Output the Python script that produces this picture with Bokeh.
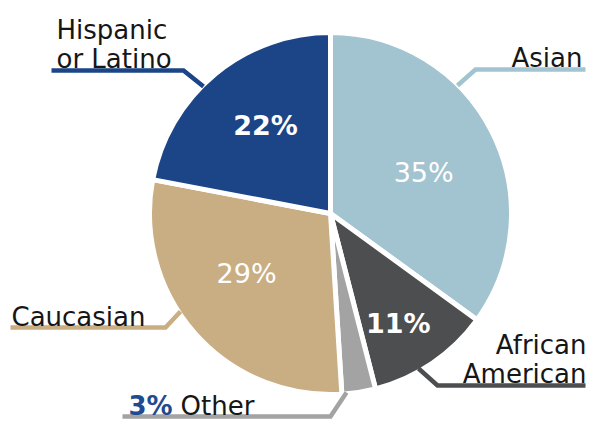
import math
from bokeh.plotting import figure
from bokeh.models import Range1d
from bokeh.core.properties import value
from bokeh.embed import file_html
from bokeh.resources import INLINE

# ---- data ----
categories = ["Asian", "African American", "Other", "Caucasian", "Hispanic or Latino"]
shares = [35, 11, 3, 29, 22]
colors = ["#a2c4d0", "#4d4e50", "#a3a3a3", "#c9ad83", "#1c4588"]

# ---- layout (screen px) ----
W, H = 587, 420
CX, CY = 330, 213      # pie centre in picture pixels
R = 181
FONT = "DejaVu Sans"

def dx(sx):
    return sx - CX

def dy(sy):
    return CY - sy

p = figure(width=W, height=H, output_backend="svg", toolbar_location=None,
           x_range=Range1d(dx(0), dx(W)), y_range=Range1d(dy(H), dy(0)),
           min_border=0, min_border_left=0, min_border_right=0,
           min_border_top=0, min_border_bottom=0)
p.axis.visible = False
p.grid.visible = False
p.outline_line_color = None
p.background_fill_color = "white"
p.border_fill_color = "white"

total = float(sum(shares))
starts, ends, mids = [], [], []
acc = 0.0
for s in shares:
    a0 = acc / total * 2 * math.pi
    acc += s
    a1 = acc / total * 2 * math.pi
    starts.append(math.pi / 2 - a0)
    ends.append(math.pi / 2 - a1)
    mids.append((a0 + a1) / 2)

p.wedge(x=0, y=0, radius=R, start_angle=starts, end_angle=ends, direction="clock",
        fill_color=colors, line_color="white", line_width=5)

# percentage labels inside slices (radius px, angle nudge in degrees)
pct_radius = [102, 129, None, 103, 109]
pct_nudge = [3, 2.5, 0, 6, 3]
pct_bold = [False, True, None, False, True]
for i, s in enumerate(shares):
    if pct_radius[i] is None:
        continue
    r = pct_radius[i]
    a = mids[i] + math.radians(pct_nudge[i])
    x = r * math.sin(a)
    y = r * math.cos(a)
    p.text(x=[x], y=[y], text=[f"{s}%"], text_align="center", text_baseline="middle",
           text_color="white", text_font=value(FONT),
           text_font_size="27px", text_font_style="bold" if pct_bold[i] else "normal")

# leader lines (picture px) per category
leaders = {
    "Asian": [(457, 85), (475, 69), (585, 69)],
    "African American": [(418, 368), (437, 385), (585, 385)],
    "Other": [(346, 392), (330, 416), (122, 416)],
    "Caucasian": [(180, 311), (165, 327), (10, 327)],
    "Hispanic or Latino": [(203, 86), (183, 70), (51, 70)],
}
for c, col in zip(categories, colors):
    pts = leaders[c]
    p.line([dx(a) for a, b in pts], [dy(b) for a, b in pts], line_color=col,
           line_width=4.5, line_join="miter")

label_color = "#161616"
FS = "26px"
def lab(txt, sx, sy, align, color=label_color, style="normal"):
    p.text(x=[dx(sx)], y=[dy(sy)], text=[txt], text_align=align, text_baseline="alphabetic",
           text_color=color, text_font=value(FONT), text_font_size=FS,
           text_font_style=style)

lab("Hispanic", 56, 29, "left")
lab("or Latino", 56, 58, "left")
lab("Asian", 582, 57, "right")
lab("Caucasian", 11, 316, "left")
lab("African", 586, 344, "right")
lab("American", 586, 373, "right")
lab(f"{shares[2]}%", 128, 405, "left", color="#1f4b90", style="bold")
lab("Other", 180, 405, "left")

open("out.html", "w").write(file_html(p, INLINE))
